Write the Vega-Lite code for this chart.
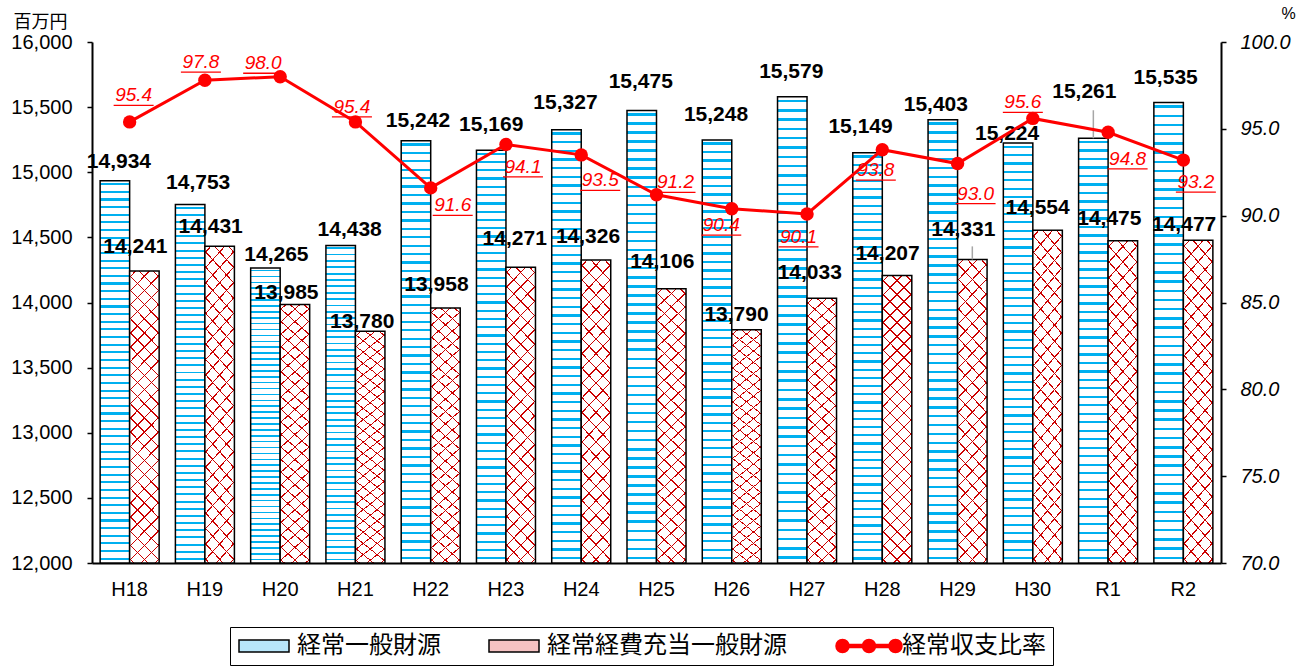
{
  "$schema": "https://vega.github.io/schema/vega-lite/v6.json",
  "width": 1129,
  "height": 521,
  "autosize": {"type": "none"},
  "padding": {"left": 92, "top": 42, "right": 90, "bottom": 105},
  "background": "white",
  "config": {"view": {"stroke": null}, "font": "Liberation Sans"},
  "params": [
    {"name": "bdx", "value": {"H18": 4, "H19": 8, "H20": 11, "H21": 9, "H22": 2, "H23": 0, "H24": -1, "H25": -1, "H26": -1, "H27": -1, "H28": -7, "H29": -7, "H30": -11, "R1": -9, "R2": -3}},
    {"name": "bdy", "value": {"H18": -18.5, "H19": -21, "H20": -13, "H21": -15, "H22": -20, "H23": -25, "H24": -27, "H25": -28, "H26": -24.5, "H27": -25, "H28": -26, "H29": -15, "H30": -9, "R1": -46, "R2": -25}},
    {"name": "adx", "value": {"H18": -9, "H19": -9, "H20": -8.5, "H21": -8, "H22": -9, "H23": -6, "H24": -8, "H25": -9, "H26": -10, "H27": -12, "H28": -9.5, "H29": -9, "H30": -10, "R1": -13.5, "R2": -14}},
    {"name": "ady", "value": {"H18": -24, "H19": -19.5, "H20": -11, "H21": -9, "H22": -23, "H23": -28.5, "H24": -23, "H25": -26.5, "H26": -14.5, "H27": -25, "H28": -22, "H29": -29, "H30": -22, "R1": -22, "R2": -15}},
    {"name": "rdx", "value": {"H18": 4, "H19": -4, "H20": -17, "H21": -3.5, "H22": 22, "H23": 17, "H24": 19, "H25": 19, "H26": -10.5, "H27": -8.5, "H28": -6.5, "H29": 18, "H30": -10, "R1": 19.5, "R2": 12.5}},
    {"name": "rdy", "value": {"H18": -26.5, "H19": -18, "H20": -13.5, "H21": -15, "H22": 17.5, "H23": 22.5, "H24": 25.5, "H25": -12.5, "H26": 16.5, "H27": 23, "H28": 20.5, "H29": 30, "H30": -16, "R1": 26.5, "R2": 22}}
  ],
  "data": {"values": [
    {"year": "H18", "経常一般財源": 14934, "経常経費充当一般財源": 14241, "経常収支比率": 95.4},
    {"year": "H19", "経常一般財源": 14753, "経常経費充当一般財源": 14431, "経常収支比率": 97.8},
    {"year": "H20", "経常一般財源": 14265, "経常経費充当一般財源": 13985, "経常収支比率": 98.0},
    {"year": "H21", "経常一般財源": 14438, "経常経費充当一般財源": 13780, "経常収支比率": 95.4},
    {"year": "H22", "経常一般財源": 15242, "経常経費充当一般財源": 13958, "経常収支比率": 91.6},
    {"year": "H23", "経常一般財源": 15169, "経常経費充当一般財源": 14271, "経常収支比率": 94.1},
    {"year": "H24", "経常一般財源": 15327, "経常経費充当一般財源": 14326, "経常収支比率": 93.5},
    {"year": "H25", "経常一般財源": 15475, "経常経費充当一般財源": 14106, "経常収支比率": 91.2},
    {"year": "H26", "経常一般財源": 15248, "経常経費充当一般財源": 13790, "経常収支比率": 90.4},
    {"year": "H27", "経常一般財源": 15579, "経常経費充当一般財源": 14033, "経常収支比率": 90.1},
    {"year": "H28", "経常一般財源": 15149, "経常経費充当一般財源": 14207, "経常収支比率": 93.8},
    {"year": "H29", "経常一般財源": 15403, "経常経費充当一般財源": 14331, "経常収支比率": 93.0},
    {"year": "H30", "経常一般財源": 15224, "経常経費充当一般財源": 14554, "経常収支比率": 95.6},
    {"year": "R1", "経常一般財源": 15261, "経常経費充当一般財源": 14475, "経常収支比率": 94.8},
    {"year": "R2", "経常一般財源": 15535, "経常経費充当一般財源": 14477, "経常収支比率": 93.2}
  ]},
  "encoding": {
    "x": {
      "field": "year", "type": "nominal", "sort": null,
      "scale": {"paddingInner": 0.216, "paddingOuter": 0.108},
      "axis": {"title": null, "labelAngle": 0, "labelFont": "Liberation Sans", "labelFontSize": 20, "labelColor": "#000", "labelPadding": 16, "ticks": false, "domainColor": "#000", "domainWidth": 2}
    }
  },
  "layer": [
    {
      "transform": [{"fold": ["経常一般財源", "経常経費充当一般財源"], "as": ["series", "value"]}],
      "encoding": {
        "xOffset": {"field": "series", "type": "nominal", "sort": ["経常一般財源", "経常経費充当一般財源"], "scale": {"domain": ["経常一般財源", "経常経費充当一般財源"], "paddingInner": 0, "paddingOuter": 0}},
        "y": {
          "field": "value", "type": "quantitative",
          "scale": {"domain": [12000, 16000], "nice": false, "zero": false},
          "axis": {
            "title": "百万円", "titleAngle": 0, "titleX": -52, "titleY": -20, "titleAlign": "center", "titleBaseline": "middle",
            "titleFont": "Noto Sans CJK JP", "titleFontSize": 18, "titleFontWeight": "normal", "titleColor": "#000",
            "values": [12000, 12500, 13000, 13500, 14000, 14500, 15000, 15500, 16000], "format": ",.0f",
            "labelFont": "Liberation Sans", "labelFontSize": 20, "labelColor": "#000", "labelPadding": 15, "labelFlush": false, "labelOverlap": false,
            "tickSize": 5, "tickColor": "#000", "tickWidth": 1.5, "domainColor": "#000", "domainWidth": 2, "grid": false
          }
        }
      },
      "layer": [
        {
          "transform": [{"filter": "datum.series === '経常一般財源'"}],
          "mark": {
            "type": "bar", "stroke": "#000", "strokeWidth": 1.5,
            "fill": {"gradient": "linear", "x1": 0, "y1": 0, "x2": 0, "y2": 1, "stops": [
              {"offset": 0.006, "color": "#fff"}, {"offset": 0.006, "color": "#00b0f0"}, {"offset": 0.0115, "color": "#00b0f0"}, {"offset": 0.0115, "color": "#fff"},
              {"offset": 0.026, "color": "#fff"}, {"offset": 0.026, "color": "#00b0f0"}, {"offset": 0.0315, "color": "#00b0f0"}, {"offset": 0.0315, "color": "#fff"},
              {"offset": 0.046, "color": "#fff"}, {"offset": 0.046, "color": "#00b0f0"}, {"offset": 0.0515, "color": "#00b0f0"}, {"offset": 0.0515, "color": "#fff"},
              {"offset": 0.066, "color": "#fff"}, {"offset": 0.066, "color": "#00b0f0"}, {"offset": 0.0715, "color": "#00b0f0"}, {"offset": 0.0715, "color": "#fff"},
              {"offset": 0.086, "color": "#fff"}, {"offset": 0.086, "color": "#00b0f0"}, {"offset": 0.0915, "color": "#00b0f0"}, {"offset": 0.0915, "color": "#fff"},
              {"offset": 0.106, "color": "#fff"}, {"offset": 0.106, "color": "#00b0f0"}, {"offset": 0.1115, "color": "#00b0f0"}, {"offset": 0.1115, "color": "#fff"},
              {"offset": 0.126, "color": "#fff"}, {"offset": 0.126, "color": "#00b0f0"}, {"offset": 0.1315, "color": "#00b0f0"}, {"offset": 0.1315, "color": "#fff"},
              {"offset": 0.146, "color": "#fff"}, {"offset": 0.146, "color": "#00b0f0"}, {"offset": 0.1515, "color": "#00b0f0"}, {"offset": 0.1515, "color": "#fff"},
              {"offset": 0.166, "color": "#fff"}, {"offset": 0.166, "color": "#00b0f0"}, {"offset": 0.1715, "color": "#00b0f0"}, {"offset": 0.1715, "color": "#fff"},
              {"offset": 0.186, "color": "#fff"}, {"offset": 0.186, "color": "#00b0f0"}, {"offset": 0.1915, "color": "#00b0f0"}, {"offset": 0.1915, "color": "#fff"},
              {"offset": 0.206, "color": "#fff"}, {"offset": 0.206, "color": "#00b0f0"}, {"offset": 0.2115, "color": "#00b0f0"}, {"offset": 0.2115, "color": "#fff"},
              {"offset": 0.226, "color": "#fff"}, {"offset": 0.226, "color": "#00b0f0"}, {"offset": 0.2315, "color": "#00b0f0"}, {"offset": 0.2315, "color": "#fff"},
              {"offset": 0.246, "color": "#fff"}, {"offset": 0.246, "color": "#00b0f0"}, {"offset": 0.2515, "color": "#00b0f0"}, {"offset": 0.2515, "color": "#fff"},
              {"offset": 0.266, "color": "#fff"}, {"offset": 0.266, "color": "#00b0f0"}, {"offset": 0.2715, "color": "#00b0f0"}, {"offset": 0.2715, "color": "#fff"},
              {"offset": 0.286, "color": "#fff"}, {"offset": 0.286, "color": "#00b0f0"}, {"offset": 0.2915, "color": "#00b0f0"}, {"offset": 0.2915, "color": "#fff"},
              {"offset": 0.306, "color": "#fff"}, {"offset": 0.306, "color": "#00b0f0"}, {"offset": 0.3115, "color": "#00b0f0"}, {"offset": 0.3115, "color": "#fff"},
              {"offset": 0.326, "color": "#fff"}, {"offset": 0.326, "color": "#00b0f0"}, {"offset": 0.3315, "color": "#00b0f0"}, {"offset": 0.3315, "color": "#fff"},
              {"offset": 0.346, "color": "#fff"}, {"offset": 0.346, "color": "#00b0f0"}, {"offset": 0.3515, "color": "#00b0f0"}, {"offset": 0.3515, "color": "#fff"},
              {"offset": 0.366, "color": "#fff"}, {"offset": 0.366, "color": "#00b0f0"}, {"offset": 0.3715, "color": "#00b0f0"}, {"offset": 0.3715, "color": "#fff"},
              {"offset": 0.386, "color": "#fff"}, {"offset": 0.386, "color": "#00b0f0"}, {"offset": 0.3915, "color": "#00b0f0"}, {"offset": 0.3915, "color": "#fff"},
              {"offset": 0.406, "color": "#fff"}, {"offset": 0.406, "color": "#00b0f0"}, {"offset": 0.4115, "color": "#00b0f0"}, {"offset": 0.4115, "color": "#fff"},
              {"offset": 0.426, "color": "#fff"}, {"offset": 0.426, "color": "#00b0f0"}, {"offset": 0.4315, "color": "#00b0f0"}, {"offset": 0.4315, "color": "#fff"},
              {"offset": 0.446, "color": "#fff"}, {"offset": 0.446, "color": "#00b0f0"}, {"offset": 0.4515, "color": "#00b0f0"}, {"offset": 0.4515, "color": "#fff"},
              {"offset": 0.466, "color": "#fff"}, {"offset": 0.466, "color": "#00b0f0"}, {"offset": 0.4715, "color": "#00b0f0"}, {"offset": 0.4715, "color": "#fff"},
              {"offset": 0.486, "color": "#fff"}, {"offset": 0.486, "color": "#00b0f0"}, {"offset": 0.4915, "color": "#00b0f0"}, {"offset": 0.4915, "color": "#fff"},
              {"offset": 0.506, "color": "#fff"}, {"offset": 0.506, "color": "#00b0f0"}, {"offset": 0.5115, "color": "#00b0f0"}, {"offset": 0.5115, "color": "#fff"},
              {"offset": 0.526, "color": "#fff"}, {"offset": 0.526, "color": "#00b0f0"}, {"offset": 0.5315, "color": "#00b0f0"}, {"offset": 0.5315, "color": "#fff"},
              {"offset": 0.546, "color": "#fff"}, {"offset": 0.546, "color": "#00b0f0"}, {"offset": 0.5515, "color": "#00b0f0"}, {"offset": 0.5515, "color": "#fff"},
              {"offset": 0.566, "color": "#fff"}, {"offset": 0.566, "color": "#00b0f0"}, {"offset": 0.5715, "color": "#00b0f0"}, {"offset": 0.5715, "color": "#fff"},
              {"offset": 0.586, "color": "#fff"}, {"offset": 0.586, "color": "#00b0f0"}, {"offset": 0.5915, "color": "#00b0f0"}, {"offset": 0.5915, "color": "#fff"},
              {"offset": 0.606, "color": "#fff"}, {"offset": 0.606, "color": "#00b0f0"}, {"offset": 0.6115, "color": "#00b0f0"}, {"offset": 0.6115, "color": "#fff"},
              {"offset": 0.626, "color": "#fff"}, {"offset": 0.626, "color": "#00b0f0"}, {"offset": 0.6315, "color": "#00b0f0"}, {"offset": 0.6315, "color": "#fff"},
              {"offset": 0.646, "color": "#fff"}, {"offset": 0.646, "color": "#00b0f0"}, {"offset": 0.6515, "color": "#00b0f0"}, {"offset": 0.6515, "color": "#fff"},
              {"offset": 0.666, "color": "#fff"}, {"offset": 0.666, "color": "#00b0f0"}, {"offset": 0.6715, "color": "#00b0f0"}, {"offset": 0.6715, "color": "#fff"},
              {"offset": 0.686, "color": "#fff"}, {"offset": 0.686, "color": "#00b0f0"}, {"offset": 0.6915, "color": "#00b0f0"}, {"offset": 0.6915, "color": "#fff"},
              {"offset": 0.706, "color": "#fff"}, {"offset": 0.706, "color": "#00b0f0"}, {"offset": 0.7115, "color": "#00b0f0"}, {"offset": 0.7115, "color": "#fff"},
              {"offset": 0.726, "color": "#fff"}, {"offset": 0.726, "color": "#00b0f0"}, {"offset": 0.7315, "color": "#00b0f0"}, {"offset": 0.7315, "color": "#fff"},
              {"offset": 0.746, "color": "#fff"}, {"offset": 0.746, "color": "#00b0f0"}, {"offset": 0.7515, "color": "#00b0f0"}, {"offset": 0.7515, "color": "#fff"},
              {"offset": 0.766, "color": "#fff"}, {"offset": 0.766, "color": "#00b0f0"}, {"offset": 0.7715, "color": "#00b0f0"}, {"offset": 0.7715, "color": "#fff"},
              {"offset": 0.786, "color": "#fff"}, {"offset": 0.786, "color": "#00b0f0"}, {"offset": 0.7915, "color": "#00b0f0"}, {"offset": 0.7915, "color": "#fff"},
              {"offset": 0.806, "color": "#fff"}, {"offset": 0.806, "color": "#00b0f0"}, {"offset": 0.8115, "color": "#00b0f0"}, {"offset": 0.8115, "color": "#fff"},
              {"offset": 0.826, "color": "#fff"}, {"offset": 0.826, "color": "#00b0f0"}, {"offset": 0.8315, "color": "#00b0f0"}, {"offset": 0.8315, "color": "#fff"},
              {"offset": 0.846, "color": "#fff"}, {"offset": 0.846, "color": "#00b0f0"}, {"offset": 0.8515, "color": "#00b0f0"}, {"offset": 0.8515, "color": "#fff"},
              {"offset": 0.866, "color": "#fff"}, {"offset": 0.866, "color": "#00b0f0"}, {"offset": 0.8715, "color": "#00b0f0"}, {"offset": 0.8715, "color": "#fff"},
              {"offset": 0.886, "color": "#fff"}, {"offset": 0.886, "color": "#00b0f0"}, {"offset": 0.8915, "color": "#00b0f0"}, {"offset": 0.8915, "color": "#fff"},
              {"offset": 0.906, "color": "#fff"}, {"offset": 0.906, "color": "#00b0f0"}, {"offset": 0.9115, "color": "#00b0f0"}, {"offset": 0.9115, "color": "#fff"},
              {"offset": 0.926, "color": "#fff"}, {"offset": 0.926, "color": "#00b0f0"}, {"offset": 0.9315, "color": "#00b0f0"}, {"offset": 0.9315, "color": "#fff"},
              {"offset": 0.946, "color": "#fff"}, {"offset": 0.946, "color": "#00b0f0"}, {"offset": 0.9515, "color": "#00b0f0"}, {"offset": 0.9515, "color": "#fff"},
              {"offset": 0.966, "color": "#fff"}, {"offset": 0.966, "color": "#00b0f0"}, {"offset": 0.9715, "color": "#00b0f0"}, {"offset": 0.9715, "color": "#fff"},
              {"offset": 0.986, "color": "#fff"}, {"offset": 0.986, "color": "#00b0f0"}, {"offset": 0.9915, "color": "#00b0f0"}, {"offset": 0.9915, "color": "#fff"}
            ]}
          },
          "encoding": {"y2": {"datum": 12000}}
        },
        {
          "transform": [{"filter": "datum.series === '経常経費充当一般財源'"}],
          "mark": {
            "type": "bar", "strokeWidth": 0,
            "fill": {"gradient": "linear", "x1": 0, "y1": 0, "x2": 0.1236, "y2": 1.2005, "stops": [
              {"offset": 0.015, "color": "#fff"}, {"offset": 0.015, "color": "#cc0000"}, {"offset": 0.019, "color": "#cc0000"}, {"offset": 0.019, "color": "#fff"},
              {"offset": 0.055, "color": "#fff"}, {"offset": 0.055, "color": "#cc0000"}, {"offset": 0.059, "color": "#cc0000"}, {"offset": 0.059, "color": "#fff"},
              {"offset": 0.095, "color": "#fff"}, {"offset": 0.095, "color": "#cc0000"}, {"offset": 0.099, "color": "#cc0000"}, {"offset": 0.099, "color": "#fff"},
              {"offset": 0.135, "color": "#fff"}, {"offset": 0.135, "color": "#cc0000"}, {"offset": 0.139, "color": "#cc0000"}, {"offset": 0.139, "color": "#fff"},
              {"offset": 0.175, "color": "#fff"}, {"offset": 0.175, "color": "#cc0000"}, {"offset": 0.179, "color": "#cc0000"}, {"offset": 0.179, "color": "#fff"},
              {"offset": 0.215, "color": "#fff"}, {"offset": 0.215, "color": "#cc0000"}, {"offset": 0.219, "color": "#cc0000"}, {"offset": 0.219, "color": "#fff"},
              {"offset": 0.255, "color": "#fff"}, {"offset": 0.255, "color": "#cc0000"}, {"offset": 0.259, "color": "#cc0000"}, {"offset": 0.259, "color": "#fff"},
              {"offset": 0.295, "color": "#fff"}, {"offset": 0.295, "color": "#cc0000"}, {"offset": 0.299, "color": "#cc0000"}, {"offset": 0.299, "color": "#fff"},
              {"offset": 0.335, "color": "#fff"}, {"offset": 0.335, "color": "#cc0000"}, {"offset": 0.339, "color": "#cc0000"}, {"offset": 0.339, "color": "#fff"},
              {"offset": 0.375, "color": "#fff"}, {"offset": 0.375, "color": "#cc0000"}, {"offset": 0.379, "color": "#cc0000"}, {"offset": 0.379, "color": "#fff"},
              {"offset": 0.415, "color": "#fff"}, {"offset": 0.415, "color": "#cc0000"}, {"offset": 0.419, "color": "#cc0000"}, {"offset": 0.419, "color": "#fff"},
              {"offset": 0.455, "color": "#fff"}, {"offset": 0.455, "color": "#cc0000"}, {"offset": 0.459, "color": "#cc0000"}, {"offset": 0.459, "color": "#fff"},
              {"offset": 0.495, "color": "#fff"}, {"offset": 0.495, "color": "#cc0000"}, {"offset": 0.499, "color": "#cc0000"}, {"offset": 0.499, "color": "#fff"},
              {"offset": 0.535, "color": "#fff"}, {"offset": 0.535, "color": "#cc0000"}, {"offset": 0.539, "color": "#cc0000"}, {"offset": 0.539, "color": "#fff"},
              {"offset": 0.575, "color": "#fff"}, {"offset": 0.575, "color": "#cc0000"}, {"offset": 0.579, "color": "#cc0000"}, {"offset": 0.579, "color": "#fff"},
              {"offset": 0.615, "color": "#fff"}, {"offset": 0.615, "color": "#cc0000"}, {"offset": 0.619, "color": "#cc0000"}, {"offset": 0.619, "color": "#fff"},
              {"offset": 0.655, "color": "#fff"}, {"offset": 0.655, "color": "#cc0000"}, {"offset": 0.659, "color": "#cc0000"}, {"offset": 0.659, "color": "#fff"},
              {"offset": 0.695, "color": "#fff"}, {"offset": 0.695, "color": "#cc0000"}, {"offset": 0.699, "color": "#cc0000"}, {"offset": 0.699, "color": "#fff"},
              {"offset": 0.735, "color": "#fff"}, {"offset": 0.735, "color": "#cc0000"}, {"offset": 0.739, "color": "#cc0000"}, {"offset": 0.739, "color": "#fff"},
              {"offset": 0.775, "color": "#fff"}, {"offset": 0.775, "color": "#cc0000"}, {"offset": 0.779, "color": "#cc0000"}, {"offset": 0.779, "color": "#fff"},
              {"offset": 0.815, "color": "#fff"}, {"offset": 0.815, "color": "#cc0000"}, {"offset": 0.819, "color": "#cc0000"}, {"offset": 0.819, "color": "#fff"},
              {"offset": 0.855, "color": "#fff"}, {"offset": 0.855, "color": "#cc0000"}, {"offset": 0.859, "color": "#cc0000"}, {"offset": 0.859, "color": "#fff"},
              {"offset": 0.895, "color": "#fff"}, {"offset": 0.895, "color": "#cc0000"}, {"offset": 0.899, "color": "#cc0000"}, {"offset": 0.899, "color": "#fff"}
            ]}
          },
          "encoding": {"y2": {"datum": 12000}}
        },
        {
          "transform": [{"filter": "datum.series === '経常経費充当一般財源'"}],
          "mark": {
            "type": "bar", "stroke": "#000", "strokeWidth": 1.5,
            "fill": {"gradient": "linear", "x1": 1, "y1": 0, "x2": 0.8764, "y2": 1.2005, "stops": [
              {"offset": 0.015, "color": "rgba(255,255,255,0)"}, {"offset": 0.015, "color": "#cc0000"}, {"offset": 0.019, "color": "#cc0000"}, {"offset": 0.019, "color": "rgba(255,255,255,0)"},
              {"offset": 0.055, "color": "rgba(255,255,255,0)"}, {"offset": 0.055, "color": "#cc0000"}, {"offset": 0.059, "color": "#cc0000"}, {"offset": 0.059, "color": "rgba(255,255,255,0)"},
              {"offset": 0.095, "color": "rgba(255,255,255,0)"}, {"offset": 0.095, "color": "#cc0000"}, {"offset": 0.099, "color": "#cc0000"}, {"offset": 0.099, "color": "rgba(255,255,255,0)"},
              {"offset": 0.135, "color": "rgba(255,255,255,0)"}, {"offset": 0.135, "color": "#cc0000"}, {"offset": 0.139, "color": "#cc0000"}, {"offset": 0.139, "color": "rgba(255,255,255,0)"},
              {"offset": 0.175, "color": "rgba(255,255,255,0)"}, {"offset": 0.175, "color": "#cc0000"}, {"offset": 0.179, "color": "#cc0000"}, {"offset": 0.179, "color": "rgba(255,255,255,0)"},
              {"offset": 0.215, "color": "rgba(255,255,255,0)"}, {"offset": 0.215, "color": "#cc0000"}, {"offset": 0.219, "color": "#cc0000"}, {"offset": 0.219, "color": "rgba(255,255,255,0)"},
              {"offset": 0.255, "color": "rgba(255,255,255,0)"}, {"offset": 0.255, "color": "#cc0000"}, {"offset": 0.259, "color": "#cc0000"}, {"offset": 0.259, "color": "rgba(255,255,255,0)"},
              {"offset": 0.295, "color": "rgba(255,255,255,0)"}, {"offset": 0.295, "color": "#cc0000"}, {"offset": 0.299, "color": "#cc0000"}, {"offset": 0.299, "color": "rgba(255,255,255,0)"},
              {"offset": 0.335, "color": "rgba(255,255,255,0)"}, {"offset": 0.335, "color": "#cc0000"}, {"offset": 0.339, "color": "#cc0000"}, {"offset": 0.339, "color": "rgba(255,255,255,0)"},
              {"offset": 0.375, "color": "rgba(255,255,255,0)"}, {"offset": 0.375, "color": "#cc0000"}, {"offset": 0.379, "color": "#cc0000"}, {"offset": 0.379, "color": "rgba(255,255,255,0)"},
              {"offset": 0.415, "color": "rgba(255,255,255,0)"}, {"offset": 0.415, "color": "#cc0000"}, {"offset": 0.419, "color": "#cc0000"}, {"offset": 0.419, "color": "rgba(255,255,255,0)"},
              {"offset": 0.455, "color": "rgba(255,255,255,0)"}, {"offset": 0.455, "color": "#cc0000"}, {"offset": 0.459, "color": "#cc0000"}, {"offset": 0.459, "color": "rgba(255,255,255,0)"},
              {"offset": 0.495, "color": "rgba(255,255,255,0)"}, {"offset": 0.495, "color": "#cc0000"}, {"offset": 0.499, "color": "#cc0000"}, {"offset": 0.499, "color": "rgba(255,255,255,0)"},
              {"offset": 0.535, "color": "rgba(255,255,255,0)"}, {"offset": 0.535, "color": "#cc0000"}, {"offset": 0.539, "color": "#cc0000"}, {"offset": 0.539, "color": "rgba(255,255,255,0)"},
              {"offset": 0.575, "color": "rgba(255,255,255,0)"}, {"offset": 0.575, "color": "#cc0000"}, {"offset": 0.579, "color": "#cc0000"}, {"offset": 0.579, "color": "rgba(255,255,255,0)"},
              {"offset": 0.615, "color": "rgba(255,255,255,0)"}, {"offset": 0.615, "color": "#cc0000"}, {"offset": 0.619, "color": "#cc0000"}, {"offset": 0.619, "color": "rgba(255,255,255,0)"},
              {"offset": 0.655, "color": "rgba(255,255,255,0)"}, {"offset": 0.655, "color": "#cc0000"}, {"offset": 0.659, "color": "#cc0000"}, {"offset": 0.659, "color": "rgba(255,255,255,0)"},
              {"offset": 0.695, "color": "rgba(255,255,255,0)"}, {"offset": 0.695, "color": "#cc0000"}, {"offset": 0.699, "color": "#cc0000"}, {"offset": 0.699, "color": "rgba(255,255,255,0)"},
              {"offset": 0.735, "color": "rgba(255,255,255,0)"}, {"offset": 0.735, "color": "#cc0000"}, {"offset": 0.739, "color": "#cc0000"}, {"offset": 0.739, "color": "rgba(255,255,255,0)"},
              {"offset": 0.775, "color": "rgba(255,255,255,0)"}, {"offset": 0.775, "color": "#cc0000"}, {"offset": 0.779, "color": "#cc0000"}, {"offset": 0.779, "color": "rgba(255,255,255,0)"},
              {"offset": 0.815, "color": "rgba(255,255,255,0)"}, {"offset": 0.815, "color": "#cc0000"}, {"offset": 0.819, "color": "#cc0000"}, {"offset": 0.819, "color": "rgba(255,255,255,0)"},
              {"offset": 0.855, "color": "rgba(255,255,255,0)"}, {"offset": 0.855, "color": "#cc0000"}, {"offset": 0.859, "color": "#cc0000"}, {"offset": 0.859, "color": "rgba(255,255,255,0)"},
              {"offset": 0.895, "color": "rgba(255,255,255,0)"}, {"offset": 0.895, "color": "#cc0000"}, {"offset": 0.899, "color": "#cc0000"}, {"offset": 0.899, "color": "rgba(255,255,255,0)"}
            ]}
          },
          "encoding": {"y2": {"datum": 12000}}
        },
        {
          "transform": [{"filter": "(datum.year === 'R1' && datum.series === '経常一般財源') || (datum.year === 'H29' && datum.series === '経常経費充当一般財源')"}],
          "mark": {"type": "rule", "stroke": "#a6a6a6", "strokeWidth": 1.5, "xOffset": {"expr": "datum.year === 'R1' ? -5 : -6"}, "yOffset": {"expr": "datum.year === 'R1' ? -28 : -13"}, "y2Offset": 0},
          "encoding": {"y2": {"field": "value"}}
        },
        {
          "mark": {
            "type": "text", "font": "Liberation Sans", "fontSize": 21, "fontWeight": "bold", "fill": "#000", "align": "center", "baseline": "middle",
            "dx": {"expr": "datum.series === '経常一般財源' ? bdx[datum.year] : adx[datum.year]"},
            "dy": {"expr": "datum.series === '経常一般財源' ? bdy[datum.year] : ady[datum.year]"}
          },
          "encoding": {"text": {"field": "value", "type": "quantitative", "format": ","}}
        }
      ]
    },
    {
      "encoding": {
        "y": {
          "field": "経常収支比率", "type": "quantitative",
          "scale": {"domain": [70, 100], "nice": false, "zero": false},
          "axis": {
            "orient": "right", "title": "%", "titleAngle": 0, "titleX": 67, "titleY": -29, "titleAlign": "center", "titleBaseline": "middle",
            "titleFont": "Liberation Sans", "titleFontSize": 16, "titleFontWeight": "normal", "titleColor": "#000",
            "values": [70, 75, 80, 85, 90, 95, 100], "format": ".1f",
            "labelFont": "Liberation Sans", "labelFontSize": 20, "labelFontStyle": "italic", "labelColor": "#000", "labelPadding": 14, "labelFlush": false, "labelOverlap": false,
            "tickSize": 5, "tickColor": "#000", "tickWidth": 1.5, "domainColor": "#000", "domainWidth": 2, "grid": false
          }
        }
      },
      "layer": [
        {"mark": {"type": "line", "strokeWidth": 3, "stroke": "#ff0000"}},
        {"mark": {"type": "point", "filled": true, "size": 180, "fill": "#ff0000", "opacity": 1, "strokeWidth": 0}},
        {
          "mark": {
            "type": "text", "font": "Liberation Sans", "fontSize": 19, "fontStyle": "italic", "fill": "#ff0000", "align": "center", "baseline": "middle",
            "dx": {"expr": "rdx[datum.year]"}, "dy": {"expr": "rdy[datum.year]"}
          },
          "encoding": {"text": {"field": "経常収支比率", "type": "quantitative", "format": ".1f"}}
        },
        {
          "mark": {"type": "tick", "size": 40, "thickness": 1.3, "color": "#ff0000", "opacity": 1, "xOffset": {"expr": "rdx[datum.year]"}, "yOffset": {"expr": "rdy[datum.year] + 10"}}
        },
        {
          "mark": {"type": "point", "filled": true, "opacity": 0, "size": 10},
          "encoding": {
            "shape": {
              "datum": "経常収支比率", "type": "nominal",
              "scale": {
                "domain": ["経常一般財源", "経常経費充当一般財源", "経常収支比率"],
                "range": [
                  "M-2.5,-0.6H2.5V0.6H-2.5Z",
                  "M-2.5,-0.6H2.5V0.6H-2.5Z",
                  "M-3.1,-0.15H3.1V0.15H-3.1Z M-3.3,0A0.65,0.65 0 1,1 -2,0A0.65,0.65 0 1,1 -3.3,0Z M-0.65,0A0.65,0.65 0 1,1 0.65,0A0.65,0.65 0 1,1 -0.65,0Z M2,0A0.65,0.65 0 1,1 3.3,0A0.65,0.65 0 1,1 2,0Z"
                ]
              },
              "legend": {
                "title": null, "orient": "none", "legendX": 138, "legendY": 585, "direction": "horizontal",
                "padding": 7, "strokeColor": "#000", "fillColor": "#fff", "columnPadding": 45,
                "labelFont": "Noto Sans CJK JP", "labelFontSize": 24, "labelColor": "#000", "labelOffset": 21, "labelLimit": 400,
                "symbolSize": 400, "symbolOffset": 15, "symbolOpacity": 1, "symbolStrokeWidth": 1.5,
                "encode": {"legend": {"update": {"strokeWidth": {"value": 1.5}}}}
              }
            },
            "fill": {
              "datum": "経常収支比率", "type": "nominal",
              "scale": {"domain": ["経常一般財源", "経常経費充当一般財源", "経常収支比率"], "range": ["#b8e6fa", "#f5c2c2", "#ff0000"]}
            },
            "stroke": {
              "datum": "経常収支比率", "type": "nominal",
              "scale": {"domain": ["経常一般財源", "経常経費充当一般財源", "経常収支比率"], "range": ["#000000", "#000000", "#ff0000"]}
            }
          }
        }
      ]
    }
  ],
  "resolve": {"scale": {"y": "independent"}}
}
